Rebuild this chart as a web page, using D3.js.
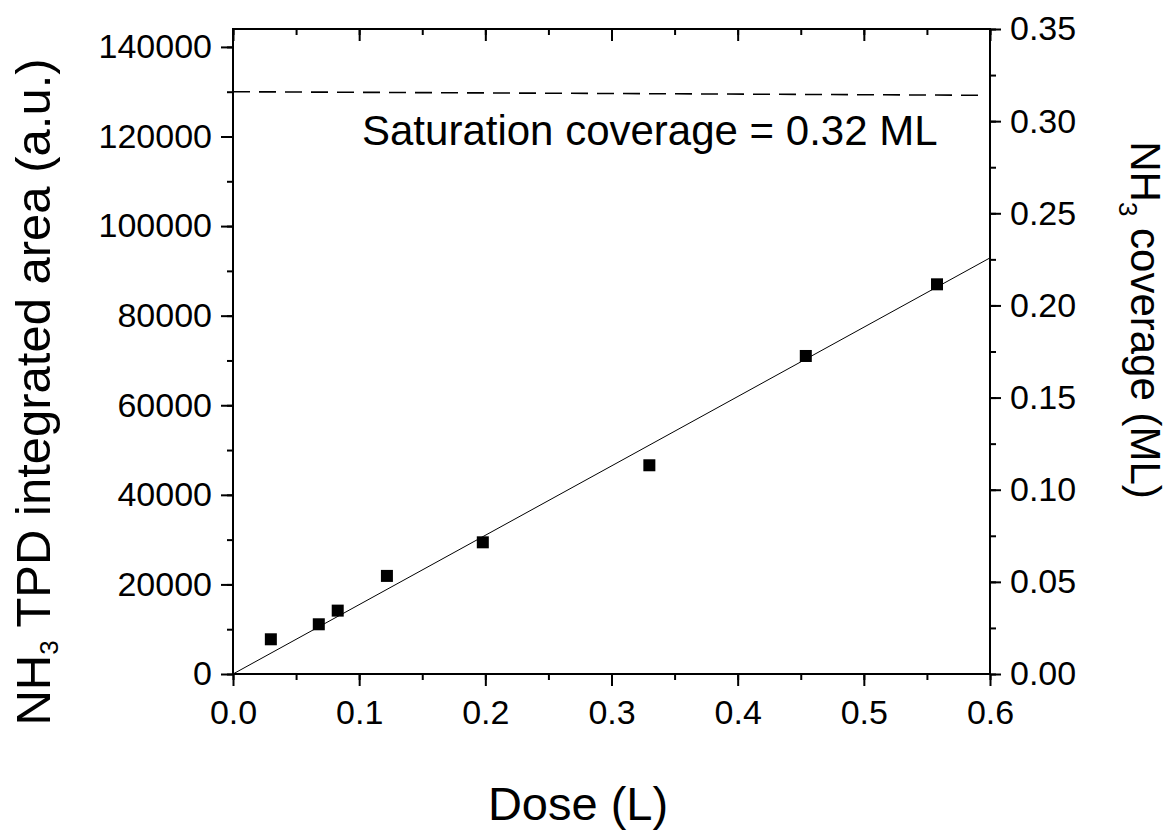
<!DOCTYPE html>
<html>
<head>
<meta charset="utf-8">
<script src="https://cdn.jsdelivr.net/npm/d3@7"></script>
<style>
  html, body { margin: 0; padding: 0; background: #fff; }
  svg { display: block; }
  text { font-family: Arial, "Liberation Sans", sans-serif; fill: #000; }
</style>
</head>
<body>
<svg id="chart" width="1169" height="832"></svg>
<script>
// ---- data ----
const dose = [0.030, 0.068, 0.083, 0.122, 0.198, 0.330, 0.454, 0.558];
const area = [7750, 11100, 14150, 21900, 29400, 46600, 71000, 87000];
const fitDose = [0, 0.6];
const fitArea = [0, 92900];
const satDose = [0, 0.594];
const satArea = [130000, 129200];
const xTicks = [0, 0.1, 0.2, 0.3, 0.4, 0.5, 0.6];
const yLeftTicks = [0, 20000, 40000, 60000, 80000, 100000, 120000, 140000];
const yRightTicks = [0, 0.05, 0.10, 0.15, 0.20, 0.25, 0.30, 0.35];
const satLabel = "Saturation coverage = 0.32 ML";

// ---- layout ----
const L = 233, R = 990, T = 29, B = 674;
const svg = d3.select("#chart");

const x = d3.scaleLinear().domain([0, 0.6]).range([L, R]);
const yL = d3.scaleLinear().domain([0, 144000]).range([B, T]);
const yR = d3.scaleLinear().domain([0, 0.35]).range([B, T]);

const xMinor = d3.range(0, 0.6001, 0.05);
const yLMinor = d3.range(0, 144000, 10000);
const yRMinor = d3.range(0, 0.3501, 0.025);

function styleAxis(g) {
  g.select(".domain").remove();
  g.selectAll("line").attr("stroke", "#000").attr("stroke-width", 2);
  g.selectAll("text").style("font-size", "34px").attr("fill", "#000");
}

// minor ticks (no labels)
svg.append("g").attr("transform", `translate(0,${B})`)
  .call(d3.axisBottom(x).tickValues(xMinor).tickSize(6).tickFormat(""))
  .call(styleAxis);
svg.append("g").attr("transform", `translate(0,${T})`)
  .call(d3.axisBottom(x).tickValues(xMinor).tickSize(6).tickFormat(""))
  .call(styleAxis);
svg.append("g").attr("transform", `translate(${L},0)`)
  .call(d3.axisLeft(yL).tickValues(yLMinor).tickSize(6).tickFormat(""))
  .call(styleAxis);
svg.append("g").attr("transform", `translate(${R},0)`)
  .call(d3.axisRight(yR).tickValues(yRMinor).tickSize(6).tickFormat(""))
  .call(styleAxis);

// major ticks
svg.append("g").attr("transform", `translate(0,${B})`)
  .call(d3.axisBottom(x).tickValues(xTicks).tickSize(12).tickPadding(14).tickFormat(d3.format(".1f")))
  .call(styleAxis);
svg.append("g").attr("transform", `translate(0,${T})`)
  .call(d3.axisBottom(x).tickValues(xTicks).tickSize(12).tickFormat(""))
  .call(styleAxis);
svg.append("g").attr("transform", `translate(${L},0)`)
  .call(d3.axisLeft(yL).tickValues(yLeftTicks).tickSize(12).tickPadding(9).tickFormat(d3.format("d")))
  .call(styleAxis);
svg.append("g").attr("transform", `translate(${R},0)`)
  .call(d3.axisRight(yR).tickValues(yRightTicks).tickSize(11).tickPadding(9).tickFormat(d3.format(".2f")))
  .call(styleAxis);

// frame
svg.append("rect").attr("x", L).attr("y", T).attr("width", R - L).attr("height", B - T)
  .attr("fill", "none").attr("stroke", "#000").attr("stroke-width", 2);

// saturation dashed line
const line = d3.line().x(d => x(d[0])).y(d => yL(d[1]));
svg.append("path").datum(d3.zip(satDose, satArea)).attr("d", line)
  .attr("fill", "none").attr("stroke", "#000").attr("stroke-width", 1.6)
  .attr("stroke-dasharray", "17,9");

// fit line
svg.append("path").datum(d3.zip(fitDose, fitArea)).attr("d", line)
  .attr("fill", "none").attr("stroke", "#000").attr("stroke-width", 1);

// data points
const s = 12;
svg.append("g").selectAll("rect").data(d3.zip(dose, area)).join("rect")
  .attr("x", d => x(d[0]) - s / 2).attr("y", d => yL(d[1]) - s / 2)
  .attr("width", s).attr("height", s).attr("fill", "#000");

// saturation label
svg.append("text").attr("x", 362).attr("y", 145).style("font-size", "42px").text(satLabel);

// x title
svg.append("text").attr("x", 578).attr("y", 820).attr("text-anchor", "middle")
  .style("font-size", "47px").text("Dose (L)");

// left title
const lt = svg.append("text").attr("transform", "translate(50,392) rotate(-90)")
  .attr("text-anchor", "middle").style("font-size", "49px");
lt.append("tspan").text("NH");
lt.append("tspan").attr("dy", 8).style("font-size", "26px").text("3");
lt.append("tspan").attr("dy", -8).text(" TPD integrated area (a.u.)");

// right title
const rt = svg.append("text").attr("transform", "translate(1131,320) rotate(90)")
  .attr("text-anchor", "middle").style("font-size", "42px");
rt.append("tspan").text("NH");
rt.append("tspan").attr("dy", 12).style("font-size", "26px").text("3");
rt.append("tspan").attr("dy", -12).text(" coverage (ML)");
</script>
</body>
</html>
